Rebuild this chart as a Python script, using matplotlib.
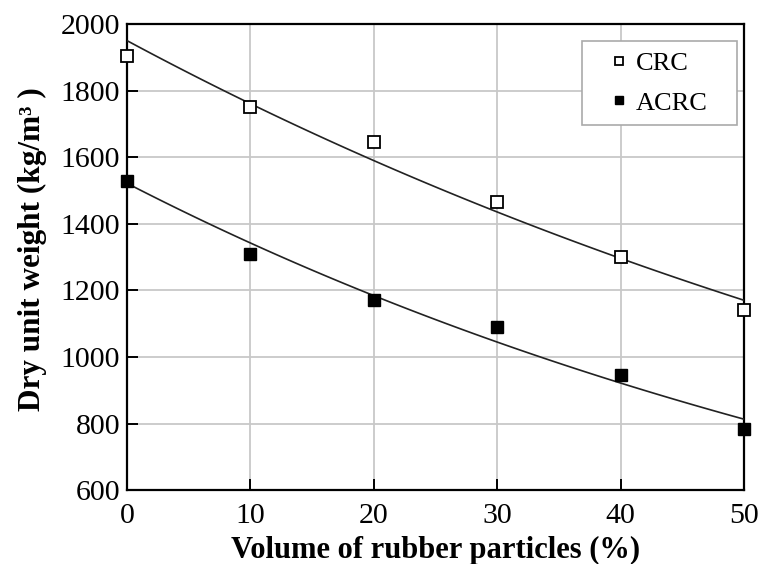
import matplotlib
matplotlib.use("Agg")
import matplotlib.pyplot as plt
import numpy as np

# Data
rubber_volume = [0, 10, 20, 30, 40, 50]
crc_weight = [1905, 1750, 1645, 1465, 1300, 1140]
acrc_weight = [1530, 1310, 1170, 1090, 945, 785]

plt.rcParams['font.family'] = ['Liberation Serif', 'DejaVu Serif']

fig = plt.figure(figsize=(7.63, 5.64), dpi=100)
ax = fig.add_axes([0.1665, 0.131, 0.8085, 0.826])


def exp_fit(x, y):
    """
    Exponential trend line fitted to the points (least squares on log y)
    """
    slope, intercept = np.polyfit(x, np.log(y), 1)
    xs = np.linspace(min(x), max(x), 100)
    return xs, np.exp(intercept + slope * xs)


# Trend lines
for values in (crc_weight, acrc_weight):
    xs, ys = exp_fit(np.array(rubber_volume), np.array(values))
    ax.plot(xs, ys, color='#222222', lw=1.2, zorder=3)

# Measured points
ax.plot(rubber_volume, crc_weight, ls='none', marker='s', ms=9, mfc='white',
        mec='black', mew=1.3, label='CRC', zorder=4, clip_on=False)
ax.plot(rubber_volume, acrc_weight, ls='none', marker='s', ms=9, mfc='black',
        mec='black', label='ACRC', zorder=4, clip_on=False)

ax.set_xlim(0, 50)
ax.set_ylim(600, 2000)
ax.set_xticks(range(0, 51, 10))
ax.set_yticks(range(600, 2001, 200))
ax.grid(True, color='#c8c8c8', lw=1.3)
ax.set_axisbelow(True)

for spine in ax.spines.values():
    spine.set_linewidth(1.6)
ax.tick_params(direction='in', length=8, width=1.4, labelsize=21.5)
ax.tick_params(axis='x', pad=9)
ax.tick_params(axis='y', pad=5)

ax.set_xlabel('Volume of rubber particles (%)', fontsize=22, fontweight='bold', labelpad=5)
ax.set_ylabel('Dry unit weight (kg/m\u00b3 )', fontsize=22.5, fontweight='bold')
ax.yaxis.set_label_coords(-0.13, 0.517)

# Legend box placed in the top right corner, stretched to the reference width
leg = ax.legend(loc='upper right', fontsize=19, fancybox=False, framealpha=1,
                edgecolor='#aaaaaa', markerscale=0.7, handlelength=2.0,
                handletextpad=-0.35, borderpad=0.4, labelspacing=0.6,
                borderaxespad=0, mode='expand',
                bbox_to_anchor=(0.737, 0.768, 0.251, 0.1955))
leg.get_frame().set_linewidth(1.2)

fig.savefig('out.png', dpi=100)
